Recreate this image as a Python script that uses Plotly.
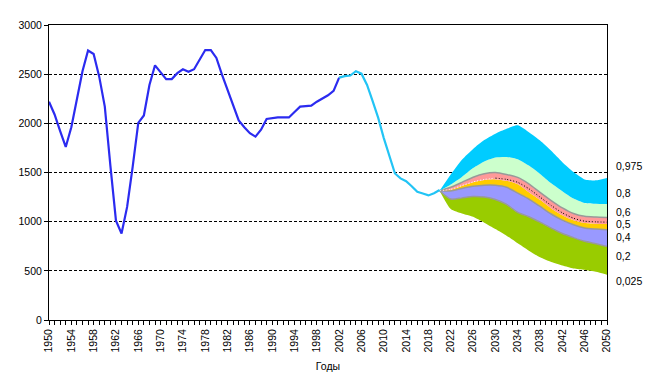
import plotly.graph_objects as go

# ---- Data ----
hist_years = list(range(1950, 2003))
hist_values = [2220, 2090, 1920, 1760, 1960, 2240, 2530, 2740, 2705, 2475,
               2170, 1570, 1010, 880, 1150, 1560, 2005, 2080, 2390, 2590,
               2525, 2450, 2450, 2510, 2550, 2525, 2550, 2655, 2745, 2745,
               2665, 2495, 2340, 2170, 2030, 1960, 1900, 1865, 1935, 2045,
               2055, 2060, 2060, 2060, 2115, 2170, 2175, 2180, 2220, 2250,
               2285, 2330, 2465]

est_years = list(range(2002, 2021))
est_values = [2465, 2480, 2486, 2530, 2505, 2390, 2225, 2055, 1850, 1665,
              1490, 1440, 1412, 1360, 1303, 1287, 1267, 1290, 1322]

fan_years = list(range(2020, 2051, 2))
q025 = [1315, 1128, 1083, 1050, 990, 925, 858, 780, 705, 638, 590, 555, 525, 511, 490, 460]
q20 = [1315, 1230, 1242, 1256, 1250, 1225, 1175, 1095, 1050, 995, 935, 880, 838, 800, 775, 748]
q40 = [1315, 1312, 1338, 1360, 1371, 1370, 1350, 1290, 1230, 1155, 1078, 1015, 968, 936, 925, 918]
q50 = [1315, 1325, 1363, 1400, 1423, 1430, 1416, 1380, 1300, 1222, 1135, 1066, 1015, 987, 980, 976]
q60 = [1315, 1350, 1400, 1452, 1488, 1500, 1480, 1450, 1385, 1298, 1215, 1140, 1083, 1054, 1047, 1043]
q80 = [1315, 1378, 1455, 1545, 1612, 1652, 1657, 1636, 1570, 1485, 1390, 1310, 1235, 1190, 1182, 1179]
q975 = [1315, 1480, 1630, 1740, 1830, 1895, 1945, 1980, 1910, 1825, 1720, 1605, 1505, 1430, 1420, 1445]

mean_years_a = [2020, 2022, 2024, 2026, 2028, 2030]
mean_values_a = [1315, 1330, 1368, 1405, 1430, 1443]
mean_years_b = [2030, 2032, 2034, 2036, 2038, 2040, 2042, 2044, 2046, 2048, 2050]
mean_values_b = [1443, 1430, 1400, 1335, 1250, 1165, 1090, 1035, 1005, 998, 995]

quantile_labels = ["0,975", "0,8", "0,6", "0,5", "0,4", "0,2", "0,025"]
label_y = [1565, 1294, 1097, 972, 843, 650, 396]

tick_years = list(range(1950, 2051, 4))
y_ticks = [0, 500, 1000, 1500, 2000, 2500, 3000]

FONT = "Liberation Sans, Arial, sans-serif"

fig = go.Figure()

bands = [
    (q025, None, None),
    (q20, "#99CC00", "#999999"),
    (q40, "#9999FF", "#999999"),
    (q50, "#FFCC00", None),
    (q60, "#FF9999", "#999999"),
    (q80, "#CCFFCC", None),
    (q975, "#00CCFF", None),
]
for vals, fillc, linec in bands:
    fig.add_trace(go.Scatter(
        x=fan_years, y=vals, mode="lines",
        line=dict(color=linec if linec else "rgba(0,0,0,0)", width=1.5 if linec else 0,
                  shape="spline", smoothing=0.6),
        fill="tonexty" if fillc else None,
        fillcolor=fillc,
        showlegend=False, hoverinfo="skip",
    ))

fig.add_trace(go.Scatter(x=mean_years_a, y=mean_values_a, mode="lines",
                         line=dict(color="white", width=1, dash="1px,2px", shape="spline", smoothing=0.6),
                         showlegend=False))
fig.add_trace(go.Scatter(x=mean_years_b, y=mean_values_b, mode="lines",
                         line=dict(color="black", width=1, dash="1px,2px", shape="spline", smoothing=0.6),
                         showlegend=False))

fig.add_trace(go.Scatter(x=hist_years, y=hist_values, mode="lines",
                         line=dict(color="#2B2BF0", width=2.2), showlegend=False))
fig.add_trace(go.Scatter(x=est_years, y=est_values, mode="lines",
                         line=dict(color="#22C4F5", width=2.2), showlegend=False))

for txt, yv in zip(quantile_labels, label_y):
    fig.add_annotation(x=1.012, xref="paper", y=yv, yref="y", text=txt,
                       showarrow=False, xanchor="left", yanchor="middle",
                       font=dict(family=FONT, size=10.5, color="black"))

# page body adds an 8px offset; margins compensate for it
fig.update_layout(
    width=668, height=392,
    margin=dict(l=41, r=69, t=17, b=80, autoexpand=False),
    paper_bgcolor="white", plot_bgcolor="white",
    font=dict(family=FONT, size=10.5, color="black"),
    showlegend=False,
)
fig.update_xaxes(
    range=[1950, 2050], tickmode="array", tickvals=tick_years,
    ticktext=[str(y) for y in tick_years], tickangle=-90,
    ticks="outside", ticklen=4, tickcolor="black", tickwidth=1,
    minor=dict(dtick=1, tick0=1950, ticks="outside", ticklen=4, tickcolor="black", showgrid=False),
    showline=True, linecolor="black", linewidth=1, mirror=True,
    showgrid=False, zeroline=False,
    title=dict(text="Годы", standoff=11, font=dict(family=FONT, size=10.5)),
    automargin=False,
)
fig.update_yaxes(
    range=[0, 3000], tickvals=y_ticks,
    ticks="outside", ticklen=4, tickcolor="black",
    showline=True, linecolor="black", linewidth=1, mirror=True,
    showgrid=True, gridcolor="black", gridwidth=1, griddash="3px,2px",
    zeroline=False, automargin=False,
)

fig.write_html("out.html")
